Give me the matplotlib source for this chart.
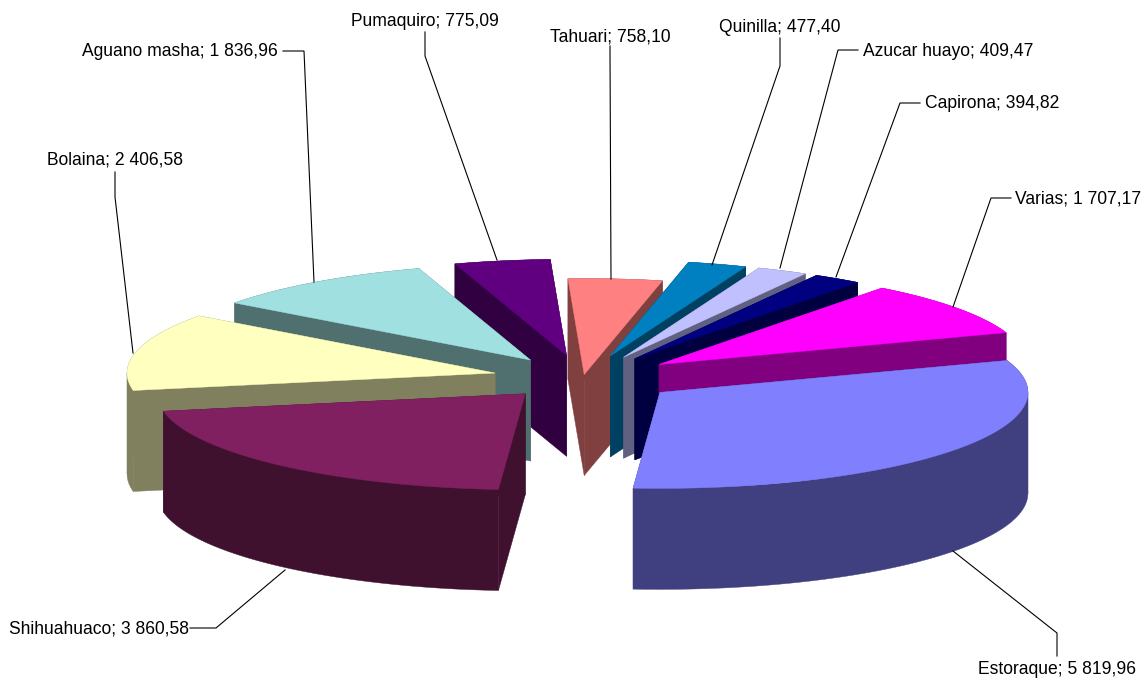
import numpy as np
import matplotlib
matplotlib.use('Agg')
import matplotlib.pyplot as plt
from matplotlib.patches import Polygon

plt.rcParams['font.family'] = ['Liberation Sans', 'DejaVu Sans']

species = ['Estoraque', 'Shihuahuaco', 'Bolaina', 'Aguano masha', 'Pumaquiro',
           'Tahuari', 'Quinilla', 'Azucar huayo', 'Capirona', 'Varias']
volumes = [5819.96, 3860.58, 2406.58, 1836.96, 775.09,
           758.10, 477.40, 409.47, 394.82, 1707.17]

top_colors = ['#8080FF', '#802060', '#FFFFC0', '#A0E0E0', '#600080',
              '#FF8080', '#0080C0', '#C0C0FF', '#000080', '#FF00FF']
side_colors = ['#404080', '#40102F', '#80805F', '#507070', '#300040',
               '#804040', '#004060', '#606080', '#000040', '#800080']

# how far each slice is pulled out (Tahuari stays almost in place)
explode = [1.03, 0.92, 0.96, 0.96, 1, 0.15, 1, 1, 1, 1]

# pie geometry in pixels
cx, cy = 583, 378
rx, ry = 368, 96
ex, ey = 94, 23
depth = 101
start_angle = 70.6

# leader lines and label anchors, in pixels
leaders = [
    [(953, 551), (1057, 633), (1057, 656)],
    [(285, 570), (216, 628), (190, 628)],
    [(133, 353), (115, 197), (115, 172)],
    [(314, 282), (304, 51), (283, 51)],
    [(497, 260), (425, 56), (425, 32)],
    [(611, 279), (610, 52), (610, 46)],
    [(712, 265), (780, 66), (780, 38)],
    [(780, 268), (838, 50), (858, 50)],
    [(836, 277), (900, 103), (920, 103)],
    [(953, 307), (991, 198), (1011, 198)],
]
label_pos = [
    (1057, 670, 'center'), (189, 629, 'right'), (115, 160, 'center'),
    (278, 52, 'right'), (425, 21, 'center'), (610, 37, 'center'),
    (780, 28, 'center'), (863, 51, 'left'), (925, 104, 'left'), (1015, 199, 'left'),
]


def format_value(v):
    return f'{v:,.2f}'.replace(',', ' ').replace('.', ',')


fig = plt.figure(figsize=(11.44, 6.78), dpi=100)
ax = fig.add_axes([0, 0, 1, 1])
ax.set_xlim(0, 1144)
ax.set_ylim(678, 0)
ax.axis('off')

shares = np.array(volumes) / np.sum(volumes) * 360
starts = start_angle + np.concatenate([[0], np.cumsum(shares)[:-1]])
mids = np.radians(starts + shares / 2)

# back slices first so the front ones cover them
for i in np.argsort(-np.cos(mids)):
    ax0 = cx + ex * explode[i] * np.sin(mids[i])
    ay0 = cy - ey * explode[i] * np.cos(mids[i])
    t = np.radians(np.linspace(starts[i], starts[i] + shares[i], 240))
    rim = np.column_stack([ax0 + rx * np.sin(t), ay0 - ry * np.cos(t)])
    apex = np.array([ax0, ay0])
    drop = np.array([0, depth])
    side = side_colors[i]
    # the two cut faces
    for p in (rim[0], rim[-1]):
        ax.add_patch(Polygon([apex, p, p + drop, apex + drop], closed=True, fc=side, ec=side, lw=0.3))
    # outer wall, split where it folds over at the far left and right
    folds = np.where(np.diff(np.sign(np.cos(t))) != 0)[0] + 1
    for part in np.split(np.arange(len(t)), folds):
        part = np.r_[part, min(part[-1] + 1, len(t) - 1)]
        wall = np.vstack([rim[part], rim[part][::-1] + drop])
        ax.add_patch(Polygon(wall, closed=True, fc=side, ec=side, lw=0.3))
    top = np.vstack([apex, rim])
    ax.add_patch(Polygon(top, closed=True, fc=top_colors[i], ec=top_colors[i], lw=0.3))

for i, name in enumerate(species):
    xs, ys = zip(*leaders[i])
    ax.plot(xs, ys, color='black', lw=0.8, solid_joinstyle='miter')
    x, y, ha = label_pos[i]
    ax.text(x, y, f'{name}; {format_value(volumes[i])}', ha=ha, va='center',
            fontsize=12.65, color='black')

fig.savefig('out.png', dpi=100)
